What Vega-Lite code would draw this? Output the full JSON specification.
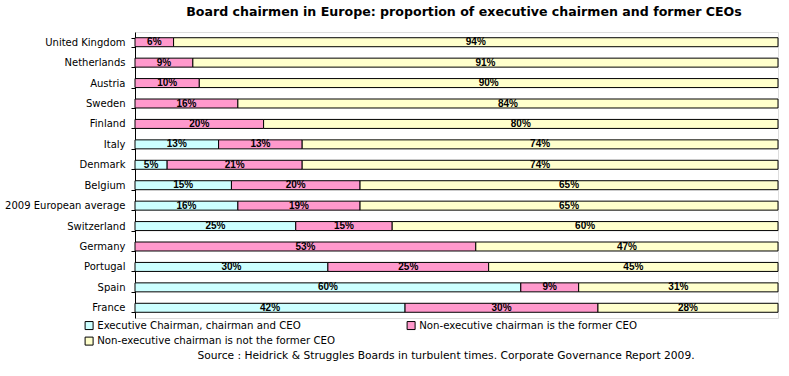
{
  "$schema": "https://vega.github.io/schema/vega-lite/v6.json",
  "width": 643,
  "height": 286,
  "autosize": {"type": "none"},
  "padding": {"left": 135, "top": 32, "right": 11, "bottom": 58},
  "background": "white",
  "title": {
    "text": "Board chairmen in Europe: proportion of executive chairmen and former CEOs",
    "font": "DejaVu Sans",
    "fontSize": 12.6,
    "fontWeight": "bold",
    "color": "#000",
    "anchor": "middle",
    "frame": "group",
    "dx": 7.5,
    "offset": 8
  },
  "data": {
    "values": [
      {"country": "United Kingdom", "category": "Non-executive chairman is the former CEO", "value": 6},
      {"country": "United Kingdom", "category": "Non-executive chairman is not the former CEO", "value": 94},
      {"country": "Netherlands", "category": "Non-executive chairman is the former CEO", "value": 9},
      {"country": "Netherlands", "category": "Non-executive chairman is not the former CEO", "value": 91},
      {"country": "Austria", "category": "Non-executive chairman is the former CEO", "value": 10},
      {"country": "Austria", "category": "Non-executive chairman is not the former CEO", "value": 90},
      {"country": "Sweden", "category": "Non-executive chairman is the former CEO", "value": 16},
      {"country": "Sweden", "category": "Non-executive chairman is not the former CEO", "value": 84},
      {"country": "Finland", "category": "Non-executive chairman is the former CEO", "value": 20},
      {"country": "Finland", "category": "Non-executive chairman is not the former CEO", "value": 80},
      {"country": "Italy", "category": "Executive Chairman, chairman and CEO", "value": 13},
      {"country": "Italy", "category": "Non-executive chairman is the former CEO", "value": 13},
      {"country": "Italy", "category": "Non-executive chairman is not the former CEO", "value": 74},
      {"country": "Denmark", "category": "Executive Chairman, chairman and CEO", "value": 5},
      {"country": "Denmark", "category": "Non-executive chairman is the former CEO", "value": 21},
      {"country": "Denmark", "category": "Non-executive chairman is not the former CEO", "value": 74},
      {"country": "Belgium", "category": "Executive Chairman, chairman and CEO", "value": 15},
      {"country": "Belgium", "category": "Non-executive chairman is the former CEO", "value": 20},
      {"country": "Belgium", "category": "Non-executive chairman is not the former CEO", "value": 65},
      {"country": "2009 European average", "category": "Executive Chairman, chairman and CEO", "value": 16},
      {"country": "2009 European average", "category": "Non-executive chairman is the former CEO", "value": 19},
      {"country": "2009 European average", "category": "Non-executive chairman is not the former CEO", "value": 65},
      {"country": "Switzerland", "category": "Executive Chairman, chairman and CEO", "value": 25},
      {"country": "Switzerland", "category": "Non-executive chairman is the former CEO", "value": 15},
      {"country": "Switzerland", "category": "Non-executive chairman is not the former CEO", "value": 60},
      {"country": "Germany", "category": "Non-executive chairman is the former CEO", "value": 53},
      {"country": "Germany", "category": "Non-executive chairman is not the former CEO", "value": 47},
      {"country": "Portugal", "category": "Executive Chairman, chairman and CEO", "value": 30},
      {"country": "Portugal", "category": "Non-executive chairman is the former CEO", "value": 25},
      {"country": "Portugal", "category": "Non-executive chairman is not the former CEO", "value": 45},
      {"country": "Spain", "category": "Executive Chairman, chairman and CEO", "value": 60},
      {"country": "Spain", "category": "Non-executive chairman is the former CEO", "value": 9},
      {"country": "Spain", "category": "Non-executive chairman is not the former CEO", "value": 31},
      {"country": "France", "category": "Executive Chairman, chairman and CEO", "value": 42},
      {"country": "France", "category": "Non-executive chairman is the former CEO", "value": 30},
      {"country": "France", "category": "Non-executive chairman is not the former CEO", "value": 28}
    ]
  },
  "transform": [
    {"calculate": "indexof(['Executive Chairman, chairman and CEO','Non-executive chairman is the former CEO','Non-executive chairman is not the former CEO'], datum.category)", "as": "o"},
    {"stack": "value", "groupby": ["country"], "sort": [{"field": "o", "order": "ascending"}], "as": ["v0", "v1"]},
    {"calculate": "(datum.v0 + datum.v1) / 2", "as": "mid"},
    {"calculate": "datum.value + '%'", "as": "label"}
  ],
  "encoding": {
    "y": {
      "field": "country",
      "type": "nominal",
      "sort": ["United Kingdom", "Netherlands", "Austria", "Sweden", "Finland", "Italy", "Denmark", "Belgium", "2009 European average", "Switzerland", "Germany", "Portugal", "Spain", "France"],
      "scale": {"paddingInner": 0.56, "paddingOuter": 0.28},
      "axis": {
        "title": null,
        "grid": false,
        "domain": true,
        "domainColor": "#000",
        "domainWidth": 1,
        "ticks": true,
        "tickColor": "#000",
        "tickSize": 4,
        "tickBand": "extent",
        "labelFont": "DejaVu Sans",
        "labelFontSize": 10,
        "labelColor": "#000",
        "labelPadding": 6,
        "labelLimit": 200
      }
    }
  },
  "layer": [
    {
      "mark": {"type": "bar", "stroke": "#000", "strokeWidth": 1},
      "encoding": {
        "x": {
          "field": "v0",
          "type": "quantitative",
          "scale": {"domain": [0, 100], "nice": false},
          "axis": {
            "domain": false,
            "ticks": false,
            "labels": false,
            "grid": false,
            "title": "Source : Heidrick & Struggles Boards in turbulent times. Corporate Governance Report 2009.",
            "titleFont": "DejaVu Sans",
            "titleFontSize": 10.7,
            "titleFontWeight": "normal",
            "titleColor": "#000",
            "titleAnchor": "middle",
            "titleBaseline": "middle",
            "titleX": 310.5,
            "titleY": 37
          }
        },
        "x2": {"field": "v1"},
        "color": {
          "field": "category",
          "type": "nominal",
          "scale": {
            "domain": ["Executive Chairman, chairman and CEO", "Non-executive chairman is the former CEO", "Non-executive chairman is not the former CEO"],
            "range": ["#CCFFFF", "#FF99CC", "#FFFFCC"]
          },
          "legend": {
            "orient": "none",
            "legendX": -51,
            "legendY": 288,
            "direction": "horizontal",
            "columns": 2,
            "title": null,
            "padding": 0,
            "symbolType": "square",
            "symbolSize": 64,
            "symbolStrokeColor": "#000",
            "symbolStrokeWidth": 1,
            "symbolOpacity": 1,
            "labelFont": "DejaVu Sans",
            "labelFontSize": 10.2,
            "labelColor": "#000",
            "labelOffset": 3,
            "labelLimit": 400,
            "rowPadding": 3,
            "columnPadding": 70
          }
        }
      }
    },
    {
      "mark": {"type": "text", "font": "Liberation Sans", "fontWeight": "bold", "fontSize": 10, "color": "#000", "baseline": "middle", "align": "center"},
      "encoding": {
        "x": {"field": "mid", "type": "quantitative"},
        "text": {"field": "label"}
      }
    }
  ]
}
